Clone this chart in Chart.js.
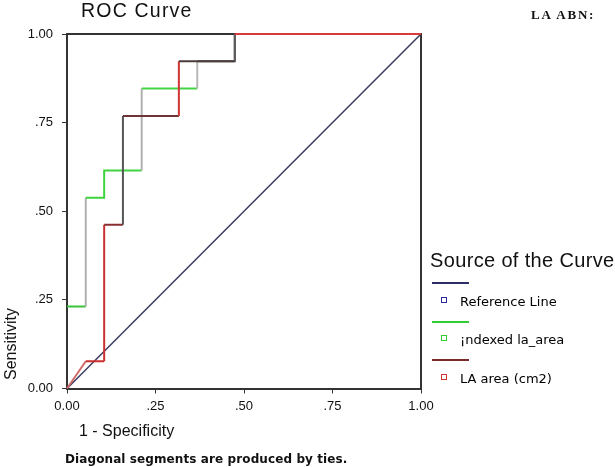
<!DOCTYPE html>
<html>
<head>
<meta charset="utf-8">
<script src="https://cdn.jsdelivr.net/npm/chart.js@4/dist/chart.umd.min.js"></script>
<style>
  html, body { margin: 0; padding: 0; background: #fff; }
  #wrap { position: relative; width: 615px; height: 467px; overflow: hidden; background: #fff; }
  #c { position: absolute; left: 0; top: 0; }
  .t { position: absolute; white-space: nowrap; line-height: 1; color: #111; }
  .sans { font-family: "Liberation Sans", Arial, sans-serif; }
  .dv { font-family: "DejaVu Sans", sans-serif; }
  .leg-line { position: absolute; height: 2px; }
  .leg-mark { position: absolute; width: 4px; height: 4px; border: 1.5px solid; background: #fff; }
</style>
</head>
<body>
<div id="wrap">
  <canvas id="c" width="615" height="467"></canvas>
  <div class="t sans" id="title" style="left:81px; top:1px; font-size:19.5px; letter-spacing:1.2px;">ROC Curve</div>
  <div class="t" id="corner" style="left:531px; top:8px; font-family:'Liberation Serif',serif; font-weight:bold; font-size:13px; letter-spacing:1.8px;">LA ABN:</div>
  <div class="t sans" id="xtitle" style="left:79px; top:423px; font-size:16px;">1 - Specificity</div>
  <div class="t sans" id="ytitle" style="left:10.5px; top:344px; font-size:16px; transform: translate(-50%,-50%) rotate(-90deg);">Sensitivity</div>
  <div class="t dv" id="note" style="left:65px; top:453px; font-size:12px; font-weight:bold; letter-spacing:0.1px;">Diagonal segments are produced by ties.</div>
  <div class="t sans" id="legtitle" style="left:430px; top:250px; font-size:20px; letter-spacing:0.35px;">Source of the Curve</div>
  <div id="legend"></div>
</div>
<script>
// ---- data ----
const seriesNames = ['Reference Line', '\u00a1ndexed la_area', 'LA area (cm2)'];
const xTickLabels = ['0.00', '.25', '.50', '.75', '1.00'];
const yTickLabels = ['0.00', '.25', '.50', '.75', '1.00'];

const refX = [0, 1];
const refY = [0, 1];

const indexedX = [0, 0, 0.053, 0.053, 0.105, 0.105, 0.211, 0.211, 0.368, 0.368, 0.474, 0.474, 1];
const indexedY = [0, 0.231, 0.231, 0.538, 0.538, 0.615, 0.615, 0.846, 0.846, 0.923, 0.923, 1, 1];

const laAreaX = [0, 0.053, 0.105, 0.105, 0.158, 0.158, 0.316, 0.316, 0.474, 0.474, 1];
const laAreaY = [0, 0.077, 0.077, 0.462, 0.462, 0.769, 0.769, 0.923, 0.923, 1, 1];

// ---- styles (kept apart from the data) ----
const legendLineColors = ['#2e2e66', '#33cc33', '#7a2a2a'];
const legendMarkColors = ['#2a2a99', '#33cc33', '#cc3333'];
const indexedSegColors = ['#333333', '#3cc43c', '#b0b0b0', '#3ed43e', '#3ed43e', '#3ed43e', '#b0b0b0', '#44d444', '#b8b8b8', '#555555', '#555555', '#d83a3a'];
const laAreaSegColors = ['#d06a6a', '#cc2f2f', '#cc3030', '#8a2f2f', '#555555', '#6d3535', '#d03434', '#4d3a3a', '#5a5a5a', '#d83a3a'];

function pts(xs, ys) { return xs.map((x, i) => ({ x: x, y: ys[i] })); }

// legend (HTML, real text)
const legend = document.getElementById('legend');
seriesNames.forEach((name, i) => {
  const base = 283 + i * 38.5;
  const line = document.createElement('div');
  line.className = 'leg-line';
  line.style.cssText = `left:432px; top:${base - 1}px; width:37px; background:${legendLineColors[i]};`;
  legend.appendChild(line);
  const mark = document.createElement('div');
  mark.className = 'leg-mark';
  mark.style.cssText = `left:441px; top:${base + 13.5}px; border-color:${legendMarkColors[i]};`;
  legend.appendChild(mark);
  const txt = document.createElement('div');
  txt.className = 't dv';
  txt.style.cssText = `left:460px; top:${base + 11.5}px; font-size:13px; color:#000;`;
  txt.textContent = name;
  legend.appendChild(txt);
});

const framePlugin = {
  id: 'frame',
  beforeDatasetsDraw(chart) {
    const a = chart.chartArea, ctx = chart.ctx;
    ctx.save();
    ctx.strokeStyle = '#333';
    ctx.lineWidth = 2;
    ctx.beginPath();
    ctx.moveTo(a.left, a.top);
    ctx.lineTo(a.right, a.top);
    ctx.lineTo(a.right, a.bottom);
    ctx.stroke();
    ctx.restore();
  }
};

new Chart(document.getElementById('c'), {
  type: 'scatter',
  data: {
    datasets: [
      {
        label: seriesNames[2],
        data: pts(laAreaX, laAreaY),
        showLine: true, pointRadius: 0, borderWidth: 2, order: 1, clip: 4,
        borderColor: '#cc3030',
        segment: { borderColor: c => laAreaSegColors[c.p0DataIndex] }
      },
      {
        label: seriesNames[1],
        data: pts(indexedX, indexedY),
        showLine: true, pointRadius: 0, borderWidth: 2, order: 2, clip: 4,
        borderColor: '#3ed43e',
        segment: { borderColor: c => indexedSegColors[c.p0DataIndex] }
      },
      {
        label: seriesNames[0],
        data: pts(refX, refY),
        showLine: true, pointRadius: 0, borderWidth: 1.5, order: 3,
        borderColor: '#3a3a5e'
      }
    ]
  },
  options: {
    responsive: false,
    animation: false,
    events: [],
    layout: { padding: { left: 0, top: 34, right: 194, bottom: 0 } },
    plugins: { legend: { display: false }, title: { display: false }, tooltip: { enabled: false } },
    scales: {
      x: {
        type: 'linear', min: 0, max: 1,
        afterFit: s => { s.height = 78.5; },
        afterBuildTicks: s => { s.ticks = xTickLabels.map((l, i) => ({ value: i * 0.25 })); },
        ticks: {
          padding: 5, color: '#111', maxRotation: 0, autoSkip: false,
          font: { family: 'Liberation Sans, Arial, sans-serif', size: 13 },
          callback: (v, i) => xTickLabels[i]
        },
        grid: { drawOnChartArea: false, drawTicks: true, tickLength: 5, tickColor: '#333' },
        border: { display: true, color: '#333', width: 2 }
      },
      y: {
        type: 'linear', min: 0, max: 1,
        afterFit: s => { s.width = 67; },
        afterBuildTicks: s => { s.ticks = yTickLabels.map((l, i) => ({ value: i * 0.25 })); },
        ticks: {
          padding: 9, color: '#111', autoSkip: false,
          font: { family: 'Liberation Sans, Arial, sans-serif', size: 13 },
          callback: (v, i) => yTickLabels[i]
        },
        grid: { drawOnChartArea: false, drawTicks: true, tickLength: 5, tickColor: '#333' },
        border: { display: true, color: '#333', width: 2 }
      }
    }
  },
  plugins: [framePlugin]
});
</script>
</body>
</html>
